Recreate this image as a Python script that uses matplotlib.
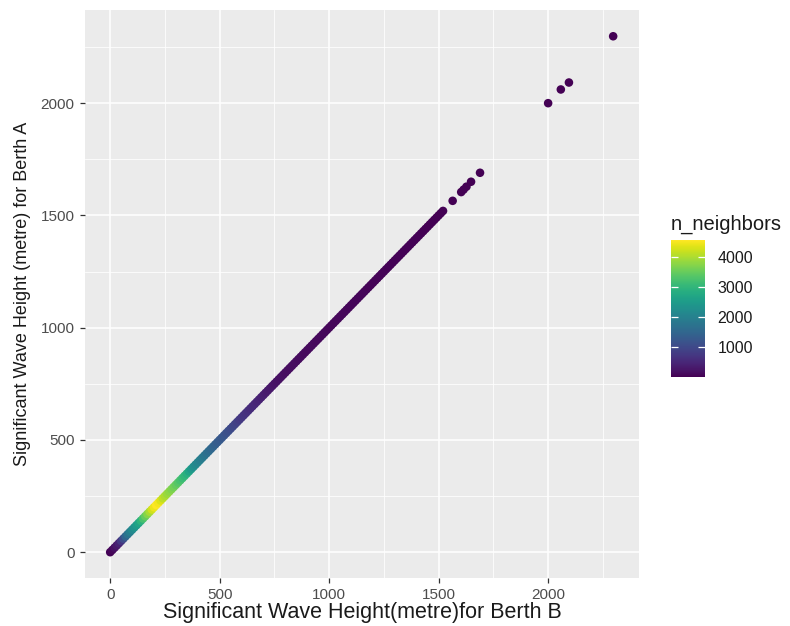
import matplotlib
matplotlib.use("Agg")
import matplotlib.pyplot as plt

plt.rcParams['font.family'] = ['Liberation Sans', 'DejaVu Sans']

# Berth B / Berth A wave heights along the diagonal, plus the sparse tail
berth_b = [
    0, 10, 20, 30, 40, 50, 60, 70, 80, 90,
    100, 110, 120, 130, 140, 150, 160, 170, 180, 190,
    200, 210, 220, 230, 240, 250, 260, 270, 280, 290,
    300, 310, 320, 330, 340, 350, 360, 370, 380, 390,
    400, 410, 420, 430, 440, 450, 460, 470, 480, 490,
    500, 510, 520, 530, 540, 550, 560, 570, 580, 590,
    600, 610, 620, 630, 640, 650, 660, 670, 680, 690,
    700, 710, 720, 730, 740, 750, 760, 770, 780, 790,
    800, 810, 820, 830, 840, 850, 860, 870, 880, 890,
    900, 910, 920, 930, 940, 950, 960, 970, 980, 990,
    1000, 1010, 1020, 1030, 1040, 1050, 1060, 1070, 1080, 1090,
    1100, 1110, 1120, 1130, 1140, 1150, 1160, 1170, 1180, 1190,
    1200, 1210, 1220, 1230, 1240, 1250, 1260, 1270, 1280, 1290,
    1300, 1310, 1320, 1330, 1340, 1350, 1360, 1370, 1380, 1390,
    1400, 1410, 1420, 1430, 1440, 1450, 1460, 1470, 1480, 1490,
    1500, 1510, 1520,
    1564, 1603, 1614, 1627, 1648, 1689,
    2000, 2058, 2095, 2297,
]
berth_a = [
    0, 10, 20, 30, 40, 50, 60, 70, 80, 90,
    100, 110, 120, 130, 140, 150, 160, 170, 180, 190,
    200, 210, 220, 230, 240, 250, 260, 270, 280, 290,
    300, 310, 320, 330, 340, 350, 360, 370, 380, 390,
    400, 410, 420, 430, 440, 450, 460, 470, 480, 490,
    500, 510, 520, 530, 540, 550, 560, 570, 580, 590,
    600, 610, 620, 630, 640, 650, 660, 670, 680, 690,
    700, 710, 720, 730, 740, 750, 760, 770, 780, 790,
    800, 810, 820, 830, 840, 850, 860, 870, 880, 890,
    900, 910, 920, 930, 940, 950, 960, 970, 980, 990,
    1000, 1010, 1020, 1030, 1040, 1050, 1060, 1070, 1080, 1090,
    1100, 1110, 1120, 1130, 1140, 1150, 1160, 1170, 1180, 1190,
    1200, 1210, 1220, 1230, 1240, 1250, 1260, 1270, 1280, 1290,
    1300, 1310, 1320, 1330, 1340, 1350, 1360, 1370, 1380, 1390,
    1400, 1410, 1420, 1430, 1440, 1450, 1460, 1470, 1480, 1490,
    1500, 1510, 1520,
    1565, 1604, 1615, 1628, 1650, 1690,
    2000, 2061, 2092, 2298,
]
n_neighbors = [
    20, 80, 180, 300, 430, 700, 1050, 1450, 1750, 1950,
    2150, 2330, 2500, 2680, 2950, 3250, 3500, 3750, 3980, 4250,
    4450, 4580, 4500, 4330, 4150, 4020, 3900, 3800, 3700, 3600,
    3500, 3380, 3250, 3130, 3020, 2900, 2700, 2480, 2290, 2180,
    2080, 1980, 1880, 1790, 1700, 1620, 1540, 1470, 1400, 1340,
    1290, 1250, 1220, 1160, 1100, 1040, 980, 920, 860, 800,
    750, 710, 670, 630, 590, 550, 520, 490, 460, 430,
    400, 370, 340, 310, 280, 250, 230, 210, 195, 180,
    170, 165, 160, 155, 150, 145, 140, 135, 130, 125,
    120, 117, 114, 111, 108, 105, 102, 99, 96, 93,
    90, 88, 86, 84, 82, 80, 78, 76, 74, 72,
    70, 68, 66, 64, 62, 60, 58, 56, 54, 52,
    50, 48, 46, 44, 42, 40, 38, 36, 34, 32,
    31, 30, 29, 28, 27, 26, 25, 24, 23, 22,
    21, 20, 19, 18, 17, 16, 15, 14, 13, 12,
    11, 10, 9,
    5, 4, 4, 4, 3, 2,
    1, 1, 1, 1,
]

ticks = [0, 500, 1000, 1500, 2000]
minor_ticks = [250, 750, 1250, 1750, 2250]
bar_ticks = [1000, 2000, 3000, 4000]

W, H = 790, 626
fig = plt.figure(figsize=(W / 100, H / 100), dpi=100)
ax = fig.add_axes([85 / W, 1 - 578 / H, (639 - 85) / W, (578 - 10) / H])
ax.set_facecolor('#EBEBEB')
for side in ax.spines.values():
    side.set_visible(False)

sc = ax.scatter(berth_b, berth_a, c=n_neighbors, cmap='viridis',
                vmin=min(n_neighbors), vmax=max(n_neighbors),
                s=38, linewidths=0, zorder=3)

ax.set_xlim(-115, 2415)
ax.set_ylim(-115, 2415)
ax.set_xticks(ticks)
ax.set_yticks(ticks)
ax.set_xticks(minor_ticks, minor=True)
ax.set_yticks(minor_ticks, minor=True)
ax.grid(True, which='major', color='white', linewidth=1.1, zorder=0)
ax.grid(True, which='minor', color='white', linewidth=0.55, zorder=0)
ax.set_axisbelow(True)
ax.tick_params(which='major', length=3.5, width=0.9, color='#333333',
               labelcolor='#4D4D4D', labelsize=11, pad=4)
ax.tick_params(which='minor', length=0)

ax.set_xlabel('Significant Wave Height(metre)for Berth B', fontsize=15.5,
              color='#1A1A1A', labelpad=0)
ax.set_ylabel('Significant Wave Height (metre) for Berth A', fontsize=13,
              color='#1A1A1A', labelpad=7)

# colour bar legend
cax = fig.add_axes([671 / W, 1 - 377 / H, (705 - 671) / W, (377 - 240) / H])
cb = fig.colorbar(sc, cax=cax, ticks=bar_ticks)
cb.outline.set_visible(False)
cax.tick_params(left=True, right=True, direction='in', length=5, width=0.9,
                color='white', labelcolor='#1A1A1A', labelsize=11.5, pad=9)
fig.text(671 / W, 1 - 224 / H, 'n_neighbors', fontsize=14.5, color='#1A1A1A',
         ha='left', va='center')

fig.savefig('out.png', dpi=100)
